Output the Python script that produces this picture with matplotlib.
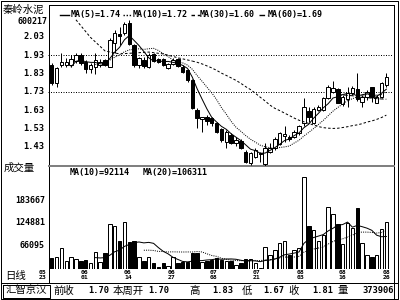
import numpy as np
import pandas as pd
import matplotlib
matplotlib.use("Agg")
import matplotlib.pyplot as plt

W, H = 400, 300
MONO = "DejaVu Sans Mono"
CJK = ["Noto Sans CJK SC", "DejaVu Sans"]
PX = 0.72  # one pixel in points at dpi 100

# daily bars 2005-05-23 .. 2005-08-26
opens = [1.875, 1.775, 1.875, 1.875, 1.875, 1.899, 1.929, 1.893, 1.852, 1.867,
         1.875, 1.903, 1.867, 1.993, 2.044, 2.048, 2.106, 1.985, 1.875, 1.903,
         1.867, 1.936, 1.906, 1.906, 1.857, 1.882, 1.906, 1.867, 1.849, 1.793,
         1.630, 1.580, 1.594, 1.585, 1.562, 1.525, 1.458, 1.494, 1.449, 1.463,
         1.403, 1.340, 1.376, 1.391, 1.336, 1.403, 1.421, 1.445, 1.488, 1.485,
         1.481, 1.503, 1.557, 1.627, 1.562, 1.630, 1.630, 1.693, 1.730, 1.742,
         1.663, 1.688, 1.721, 1.742, 1.675, 1.699, 1.754, 1.670, 1.703, 1.767]
closes = [1.780, 1.857, 1.893, 1.893, 1.906, 1.929, 1.888, 1.852, 1.875, 1.903,
          1.893, 1.875, 2.011, 2.048, 2.034, 2.098, 1.990, 1.875, 1.911, 1.870,
          1.929, 1.899, 1.893, 1.875, 1.880, 1.903, 1.870, 1.839, 1.793, 1.639,
          1.585, 1.593, 1.572, 1.561, 1.512, 1.467, 1.512, 1.452, 1.467, 1.421,
          1.349, 1.394, 1.412, 1.397, 1.425, 1.421, 1.470, 1.503, 1.499, 1.470,
          1.512, 1.543, 1.645, 1.594, 1.634, 1.645, 1.693, 1.757, 1.749, 1.670,
          1.703, 1.724, 1.749, 1.688, 1.703, 1.730, 1.699, 1.703, 1.775, 1.812]
highs = [1.885, 1.867, 1.939, 1.911, 1.929, 1.939, 1.939, 1.903, 1.885, 1.942,
         1.906, 1.906, 2.021, 2.067, 2.085, 2.111, 2.121, 1.990, 1.918, 1.921,
         1.939, 1.939, 1.911, 1.911, 1.885, 1.911, 1.911, 1.875, 1.852, 1.798,
         1.639, 1.594, 1.603, 1.594, 1.567, 1.530, 1.521, 1.503, 1.481, 1.470,
         1.412, 1.403, 1.421, 1.403, 1.452, 1.449, 1.485, 1.512, 1.543, 1.494,
         1.521, 1.549, 1.693, 1.645, 1.645, 1.657, 1.699, 1.767, 1.790, 1.749,
         1.712, 1.757, 1.761, 1.831, 1.712, 1.739, 1.757, 1.712, 1.785, 1.834]
lows = [1.767, 1.757, 1.867, 1.867, 1.867, 1.885, 1.875, 1.831, 1.831, 1.826,
        1.867, 1.872, 1.862, 1.939, 1.985, 2.039, 1.985, 1.867, 1.857, 1.857,
        1.857, 1.893, 1.885, 1.870, 1.852, 1.875, 1.862, 1.831, 1.785, 1.634,
        1.530, 1.512, 1.549, 1.543, 1.503, 1.458, 1.421, 1.445, 1.434, 1.416,
        1.343, 1.330, 1.367, 1.349, 1.327, 1.398, 1.412, 1.440, 1.458, 1.463,
        1.476, 1.494, 1.543, 1.567, 1.554, 1.627, 1.627, 1.688, 1.721, 1.667,
        1.652, 1.645, 1.712, 1.681, 1.649, 1.685, 1.675, 1.670, 1.693, 1.757]
volumes = [33700, 37800, 59400, 27500, 37000, 31000, 27500, 29000, 20800, 50700,
           25000, 46500, 121900, 116800, 79000, 126300, 76400, 77000, 37000, 27500,
           38000, 22000, 12000, 20800, 14000, 38000, 22000, 25000, 25000, 48000,
           48000, 25000, 27500, 29000, 33700, 29000, 27500, 27500, 16700, 22000,
           31000, 31000, 22000, 10000, 63500, 41000, 54000, 73800, 79000, 41000,
           55500, 60700, 242100, 116800, 106500, 79000, 93600, 166400, 147700, 121900,
           70500, 124500, 110900, 162300, 73800, 41000, 37800, 41000, 108200, 127900]

# MA(30) before it can be computed from the bars shown
ma30_lead_idx = [5, 8, 11, 14, 17, 20, 23, 26, 29]
ma30_lead_val = [2.122, 2.026, 1.952, 1.936, 1.941, 1.946, 1.936, 1.915, 1.897]

price_ticks = [2.03, 1.93, 1.83, 1.73, 1.63, 1.53, 1.43]
price_grid = [1.93, 1.73]
vol_ticks = [183667, 124881, 66095]
date_labels = ["05\n23", "06\n01", "06\n14", "06\n27", "07\n08",
               "07\n21", "08\n03", "08\n16", "08\n26"]
date_pos = [-1.9, 6.7, 15.7, 24.8, 33.3, 42.3, 51.2, 60.0, 69.1]

legend_top = ["MA(5)=1.74", "MA(10)=1.72", "MA(30)=1.60", "MA(60)=1.69"]
legend_vol = ["MA(10)=92114", "MA(20)=106311"]
bottom_items = [("前收", 53, True), ("1.70", 88, False), ("本周开", 113, True),
                ("1.70", 148, False), ("高", 189, True), ("1.83", 212, False),
                ("低", 242, True), ("1.67", 263, False), ("收", 288, True),
                ("1.81", 312, False), ("量", 337, True), ("373906", 362, False)]

df = pd.DataFrame({"o": opens, "h": highs, "l": lows, "c": closes, "v": volumes})
idx = np.arange(len(df))
ma5 = df.c.rolling(5).mean()
ma10 = df.c.rolling(10).mean()
ma30 = df.c.rolling(30).mean()
ma60 = df.c.rolling(60).mean()
vma10 = df.v.rolling(10).mean()
vma20 = df.v.rolling(20).mean()
up = df.c >= df.o

fig = plt.figure(figsize=(4, 3), dpi=100)
fig.patch.set_facecolor("white")


def fx(x):
    return x / W


def fy(y):
    return 1 - y / H


xlim = (-0.763, 70.37)
ls_ma = ["-", (0, (1, 1.2)), (0, (2.5, 2)), (0, (4, 2))]

# price panel
ax = fig.add_axes([fx(48), fy(166), 345 / W, 162 / H])
ax.set_xlim(*xlim)
ax.set_ylim(1.325, 2.208)
ax.axis("off")
for g in price_grid:
    ax.axhline(g, color="black", lw=PX, ls=(0, (1, 1.5)))
ax.vlines(idx, df.l, df.h, color="black", lw=PX, zorder=2)
body = (df.c - df.o).abs().clip(lower=0.004)
ax.bar(idx[up], body[up], bottom=df.o[up], width=0.72, facecolor="white",
       edgecolor="black", lw=PX, zorder=3)
ax.bar(idx[~up], body[~up], bottom=df.c[~up], width=0.72, facecolor="black",
       edgecolor="black", lw=PX, zorder=3)
ax.plot(idx, ma5, color="black", lw=PX, ls=ls_ma[0], zorder=4)
ax.plot(idx, ma10, color="black", lw=PX, ls=ls_ma[1], zorder=4)
ax.plot(idx, ma30, color="black", lw=PX, ls=ls_ma[2], zorder=4)
ax.plot(ma30_lead_idx, ma30_lead_val, color="black", lw=PX, ls=ls_ma[2], zorder=4)
ax.plot(idx, ma60, color="black", lw=PX, ls=ls_ma[3], zorder=4)

# volume panel
axv = fig.add_axes([fx(48), fy(269), 345 / W, 103 / H])
axv.set_xlim(*xlim)
axv.set_ylim(6145, 271163)
axv.axis("off")
axv.bar(idx[up], df.v[up], width=0.72, facecolor="white", edgecolor="black", lw=PX)
axv.bar(idx[~up], df.v[~up], width=0.72, facecolor="black", edgecolor="black", lw=PX)
axv.plot(idx, vma10, color="black", lw=PX, zorder=4)
axv.plot(idx, vma20, color="black", lw=PX, ls=(0, (1, 1.2)), zorder=4)

# frame in pixel coordinates
fr = fig.add_axes([0, 0, 1, 1], zorder=-1)
fr.set_xlim(0, W)
fr.set_ylim(H, 0)
fr.axis("off")
k = dict(color="black", lw=PX)
fr.plot([0.5, 397.5, 397.5, 0.5, 0.5], [0.5, 0.5, 298.5, 298.5, 0.5], **k)
fr.plot([393.5, 393.5], [4.5, 298.5], **k)
fr.plot([48.5, 393.5], [4.5, 4.5], **k)
fr.plot([48.5, 48.5], [4.5, 282.5], **k)
fr.plot([0.5, 397.5], [282.5, 282.5], **k)
fr.plot([48.5, 393.5], [166, 166], color="#808080", lw=2 * PX)
fr.plot([2.5, 49.5, 49.5, 2.5, 2.5], [284.5, 284.5, 297.5, 297.5, 284.5], **k)

# legend line samples
mark_x = [60, 123, 191, 259]
text_x = [71, 133, 200, 268]
for xm, ls in zip(mark_x, ls_ma):
    fr.plot([xm, xm + 9], [14.5, 14.5], color="black", lw=1.4 * PX, ls=ls)

# texts
tk = dict(family=MONO, weight="bold", color="black")
fig.text(fx(23), fy(10), "秦岭水泥", family=CJK, fontsize=7.5, ha="center", va="center")
fig.text(fx(47), fy(21), "600217", fontsize=6, ha="right", va="center", **tk)
for t in price_ticks:
    ypx = ax.transData.transform((0, t))[1]
    fig.text(fx(44), ypx / H, f"{t:.2f}", fontsize=6.3, ha="right", va="center", **tk)
for v in vol_ticks:
    ypx = axv.transData.transform((0, v))[1]
    fig.text(fx(45), ypx / H, str(v), fontsize=6, ha="right", va="center", **tk)
for s, xp in zip(legend_top, text_x):
    fig.text(fx(xp), fy(14), s, fontsize=6, ha="left", va="center", **tk)
for s, xp in zip(legend_vol, [70, 143]):
    fig.text(fx(xp), fy(172), s, fontsize=6, ha="left", va="center", **tk)
fig.text(fx(4), fy(168), "成交量", family=CJK, fontsize=7.5, ha="left", va="center")
fig.text(fx(5), fy(276), "日线", family=CJK, fontsize=7.5, ha="left", va="center")
for lab, p in zip(date_labels, date_pos):
    xpx = ax.transData.transform((p, 0))[0]
    fig.text(xpx / W, fy(275), lab, fontsize=4.6, ha="center", va="center",
             linespacing=0.85, **tk)
fig.text(fx(26), fy(290.5), "汇智京汉", family=CJK, fontsize=7.5, ha="center", va="center")
for s, xp, cjk in bottom_items:
    if cjk:
        fig.text(fx(xp), fy(290.5), s, family=CJK, fontsize=7.5, ha="left", va="center")
    else:
        fig.text(fx(xp), fy(290.5), s, fontsize=6.3, ha="left", va="center", **tk)

fig.savefig("out.png", dpi=100, facecolor="white")
